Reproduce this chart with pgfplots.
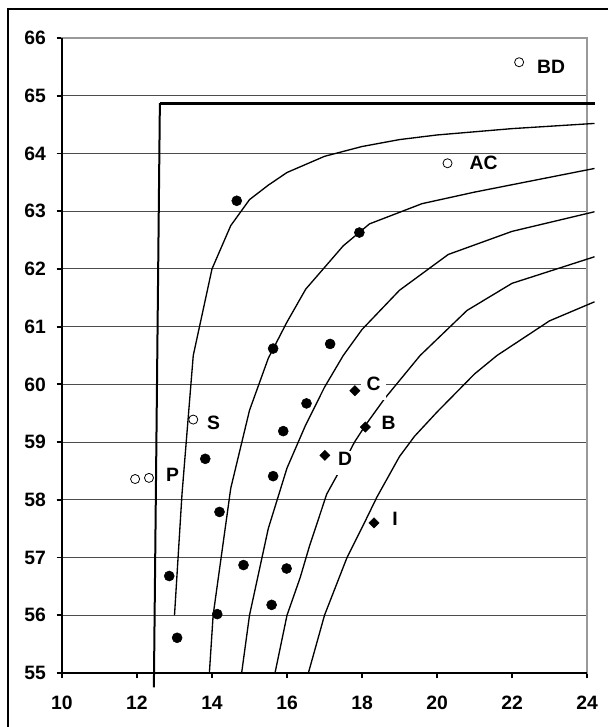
\documentclass[border=0pt]{standalone}
\usepackage{fontspec}
\setmainfont{Liberation Sans}
\usepackage{pgfplots}
\pgfplotsset{compat=1.18}
\begin{document}
\begin{tikzpicture}
\begin{axis}[
  at={(0,0)}, anchor=south west,
  scale only axis, width=393.75pt, height=476.25pt,
  xmin=10, xmax=24, ymin=55, ymax=66,
  xtick={10,12,...,24}, ytick={55,56,...,66},
  clip=false,
  ymajorgrids, grid style={black!70, line width=0.65pt},
  axis line style={black!40, line width=0.8pt},
  tick align=outside, major tick length=4pt,
  tick style={black, line width=1.4pt},
  tick pos=left,
  every tick label/.append style={font=\fontsize{14.5}{16}\selectfont\bfseries},
  /pgf/number format/assume math mode=true,
  xticklabel style={yshift=-10pt},
  yticklabel style={xshift=-4.5pt},
]
\draw[line width=1.5pt] (axis cs:10,66) -- (axis cs:10,55) -- (axis cs:24,55);
% boundary
\addplot[black, line width=1.5pt] coordinates {(12.45,54.75) (12.61,64.87)};
\addplot[black, line width=2.2pt] coordinates {(12.61,64.87) (24.2,64.87)};
% curves
\addplot[black, line width=1pt] coordinates {
(13.0,56.0) (13.2,58.1) (13.5,60.5) (14.0,62.0) (14.5,62.75) (15.0,63.2) (15.5,63.45) (16.0,63.67) (17.0,63.95) (18.0,64.12) (19.0,64.24) (20.0,64.32) (22.0,64.43) (24.2,64.52)};
\addplot[black, line width=1pt] coordinates {
(13.93,55) (14.03,56) (14.5,58.2) (15.0,59.55) (15.5,60.45) (16.0,61.08) (16.5,61.65) (17.5,62.4) (18.2,62.78) (19.6,63.13) (21.0,63.33) (24.2,63.74)};
\addplot[black, line width=1pt] coordinates {
(14.79,55) (15.0,56) (15.5,57.5) (16.0,58.55) (16.5,59.3) (17.0,59.95) (17.5,60.5) (18.0,60.95) (19.0,61.63) (20.3,62.25) (22.0,62.65) (24.2,62.99)};
\addplot[black, line width=1pt] coordinates {
(15.68,55) (16.0,56) (16.35,56.65) (16.6,57.2) (17.06,58.1) (17.4,58.5) (17.8,59.0) (18.1,59.3) (18.6,59.75) (19.55,60.5) (20.8,61.28) (22.0,61.75) (24.2,62.21)};
\addplot[black, line width=1pt] coordinates {
(16.57,55) (17.0,56) (17.6,57.0) (18.1,57.65) (18.4,58.05) (19.0,58.75) (19.4,59.1) (20.0,59.52) (21.0,60.18) (21.6,60.5) (23.0,61.1) (24.2,61.43)};
% labels
\begin{scope}[font=\fontsize{14.5}{16}\selectfont\bfseries, inner xsep=1.5pt, inner ysep=0.8pt, text depth=6.5pt]
\node[anchor=base, fill=white] at (axis cs:23.04,65.39) {BD};
\node[anchor=base, fill=white] at (axis cs:21.24,63.72) {AC};
\node[anchor=base, fill=white] at (axis cs:14.04,59.22) {S};
\node[anchor=base, fill=white] at (axis cs:12.95,58.31) {P};
\node[anchor=base, fill=white, inner xsep=4pt] at (axis cs:18.31,59.90) {C};
\node[anchor=base, fill=white] at (axis cs:18.71,59.22) {B};
\node[anchor=base, fill=white, inner xsep=3pt] at (axis cs:17.55,58.59) {D};
\node[anchor=base, fill=white] at (axis cs:18.88,57.56) {I};
\end{scope}
% filled circles
\addplot[only marks, mark=*, mark size=3.75pt, mark options={fill=black, draw=black}] coordinates {
(14.66,63.18) (17.93,62.63) (15.63,60.62) (17.15,60.70) (16.52,59.67) (15.90,59.19) (15.63,58.41) (13.82,58.71) (14.20,57.79) (14.84,56.87) (15.99,56.81) (15.59,56.18) (14.14,56.02) (12.86,56.68) (13.07,55.61)};
% open circles
\addplot[only marks, mark=*, mark size=3.4pt, mark options={fill=white, draw=black, line width=0.6pt}] coordinates {
(22.19,65.58) (20.28,63.83) (13.50,59.39) (11.95,58.36) (12.32,58.38)};
% diamonds
\addplot[only marks, mark=square*, mark size=2.7pt, mark options={fill=black, draw=black, rotate=45}] coordinates {
(17.81,59.89) (18.09,59.26) (17.01,58.77) (18.32,57.60)};
\end{axis}
\draw[black, line width=1pt] (-40.5pt,-60pt) -- (-40.5pt,498pt) -- (430pt,498pt);
\pgfresetboundingbox
\path[use as bounding box] (-46.5pt,-40.5pt) rectangle (408.75pt,504.75pt);
\end{tikzpicture}
\end{document}
